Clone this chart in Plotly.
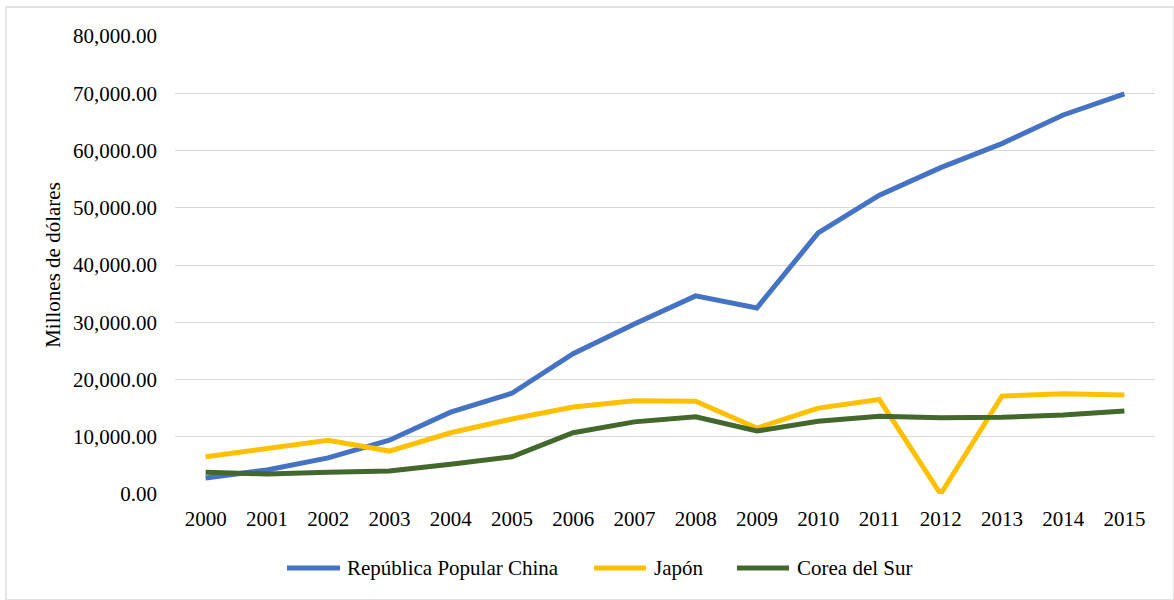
import plotly.graph_objects as go

years = [str(y) for y in range(2000, 2016)]
china = [2800, 4200, 6300, 9400, 14300, 17600, 24500, 29700, 34600, 32500,
         45600, 52200, 57000, 61200, 66200, 69900]
japon = [6500, 8000, 9400, 7500, 10700, 13100, 15200, 16300, 16200, 11500,
         15000, 16500, 0, 17100, 17500, 17300]
corea = [3800, 3500, 3800, 4000, 5200, 6500, 10700, 12600, 13500, 11000,
         12700, 13600, 13300, 13400, 13800, 14500]

series_names = ["República Popular China", "Japón", "Corea del Sur"]
colors = ["#4472C4", "#FFC000", "#43682B"]

W, H = 1174, 600
L, R, T, B = 175, 19, 36, 106
PW, PH = W - L - R, H - T - B
FS = 21


def px(x):
    return (x - L) / PW


def py(y):
    return (H - B - y) / PH


fig = go.Figure()
for name, vals, col in zip(series_names, [china, japon, corea], colors):
    fig.add_trace(go.Scatter(x=years, y=vals, name=name, mode="lines",
                             line=dict(color=col, width=5),
                             showlegend=False))

font_family = '"Liberation Serif", "Times New Roman", Times, serif'

# manual legend (long line samples like the reference)
leg_y = 568
leg_items = [(285, 342, 345), (592, 648, 652), (735, 791, 795)]
shapes = [dict(type="rect", xref="paper", yref="paper",
               x0=px(6), x1=px(1174), y0=py(600), y1=py(7),
               line=dict(color="#D9D9D9", width=1.3), layer="below")]
annotations = []
for (x0, x1, xt), name, col in zip(leg_items, series_names, colors):
    shapes.append(dict(type="line", xref="paper", yref="paper",
                       x0=px(x0 + 2), x1=px(x1 - 2), y0=py(leg_y), y1=py(leg_y),
                       line=dict(color=col, width=5)))
    annotations.append(dict(text=name, xref="paper", yref="paper",
                            x=px(xt), y=py(leg_y), xanchor="left",
                            yanchor="middle", showarrow=False,
                            font=dict(family=font_family, size=FS,
                                      color="#000000")))

fig.update_layout(
    width=W, height=H,
    margin=dict(l=L, r=R, t=T, b=B),
    paper_bgcolor="white", plot_bgcolor="white",
    font=dict(family=font_family, size=FS, color="#000000"),
    showlegend=False,
    xaxis=dict(type="category", range=[-0.5, 15.5], showgrid=False,
               showline=False, ticks="", tickfont=dict(size=FS),
               ticklabelstandoff=10),
    yaxis=dict(range=[0, 80000], dtick=10000, tickformat=",.2f",
               showgrid=True, gridcolor="#D9D9D9", gridwidth=1.3,
               zeroline=False, showline=False, ticks="",
               tickfont=dict(size=FS), ticklabelstandoff=17,
               title=dict(text="Millones de dólares", font=dict(size=FS),
                          standoff=6)),
    shapes=shapes,
    annotations=annotations,
)

fig.write_html("out.html",
               config={"displayModeBar": False},
               post_script="document.body.style.margin='0';")
